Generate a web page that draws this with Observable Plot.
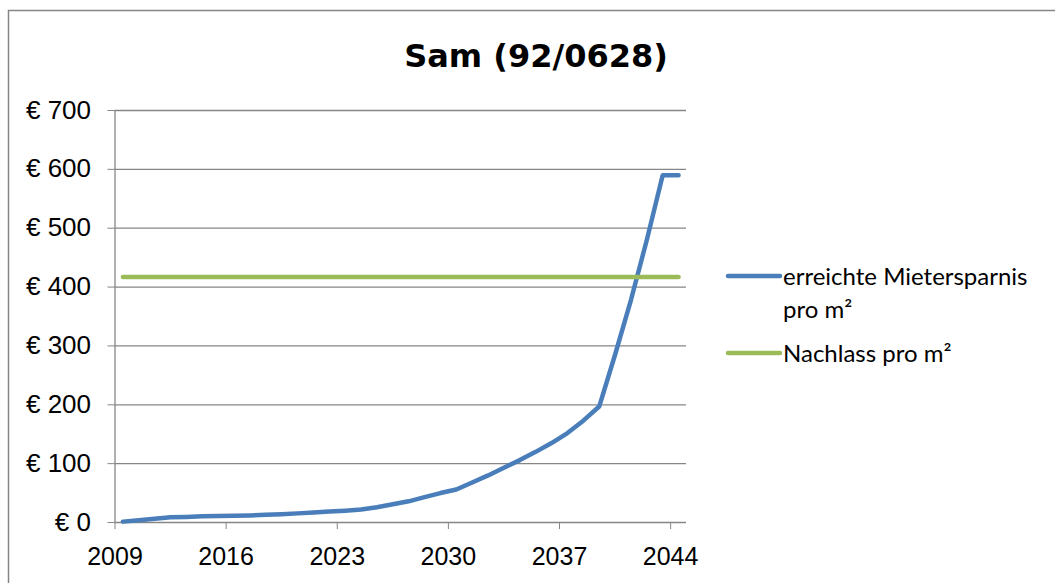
<!DOCTYPE html>
<html><head><meta charset="utf-8">
<script src="https://cdn.jsdelivr.net/npm/d3@7"></script>
<script src="https://cdn.jsdelivr.net/npm/@observablehq/plot@0.6"></script>
<style>
html,body{margin:0;padding:0;background:#fff;}
#wrap{position:relative;width:1055px;height:583px;overflow:hidden;background:#fff;}
#wrap svg{position:absolute;left:0;top:0;}
</style></head><body><div id="wrap"></div>
<script>
const chartTitle = "Sam (92/0628)";
const years = [2009,2010,2011,2012,2013,2014,2015,2016,2017,2018,2019,2020,2021,2022,2023,2024,2025,2026,
               2027,2028,2029,2030,2031,2032,2033,2034,2035,2036,2037,2038,2039,2040,2041,2042,2043,2044];
const savings = [1.5,4,6.5,9,9.5,10.5,11,11.5,12,13,14,15.5,17,18.5,20,22,26,31,
                 36,43,50,56,68,80,93,106,120,135,152,173,197,285,378,480,590,590];
const discount = [417,417,417,417,417,417,417,417,417,417,417,417,417,417,417,417,417,417,
                  417,417,417,417,417,417,417,417,417,417,417,417,417,417,417,417,417,417];
const seriesNames = ["erreichte Mietersparnis pro m²", "Nachlass pro m²"];
const seriesColors = ["#4A7EBB", "#9BBB59"];
const yTicks = [0,100,200,300,400,500,600,700];
const xTickLabels = [2009,2016,2023,2030,2037,2044];

const table = years.map((y,i) => ({year:y, saving:savings[i], discount:discount[i]}));
const grey = "#868686";

const chart = Plot.plot({
  width:1055, height:583,
  marginTop:110, marginBottom:61, marginLeft:114.5, marginRight:369,
  style:{fontFamily:"Liberation Sans, Arial, sans-serif", fontSize:"25px", color:"#000", background:"transparent", overflow:"visible"},
  x:{type:"linear", domain:[years[0]-0.5, years[years.length-1]+0.5]},
  y:{domain:[0,700]},
  marks:[
    Plot.ruleY(yTicks, {stroke:grey, strokeWidth:1.3}),
    Plot.ruleX([years[0]-0.5], {stroke:grey, strokeWidth:1.3}),
    Plot.axisY({ticks:yTicks, tickFormat:d => "€ " + d, tickSize:7, tickPadding:17, stroke:grey, fill:"#000", label:null}),
    Plot.axisX({ticks:xTickLabels.map(d => d - 0.5), tickFormat:d => String(d + 0.5), tickSize:7, tickPadding:18, stroke:grey, fill:"#000", label:null}),
    Plot.line(table, {x:"year", y:"saving", stroke:seriesColors[0], strokeWidth:4.5, strokeLinecap:"round", strokeLinejoin:"round"}),
    Plot.line(table, {x:"year", y:"discount", stroke:seriesColors[1], strokeWidth:4.5, strokeLinecap:"round", strokeLinejoin:"round"})
  ]
});
const wrap = document.getElementById("wrap");
wrap.appendChild(chart);

// widen y tick labels slightly like the (horizontally stretched) original
d3.select(chart).selectAll('g[aria-label="y-axis tick label"] text')
  .attr("transform", function() { return (this.getAttribute("transform") || "") + " scale(1.04,1)"; });

// overlay: border, title, legend
const ov = d3.select(wrap).append("svg").attr("width",1055).attr("height",583).style("pointer-events","none");
ov.append("path").attr("d","M8.5,583V10.5H1055").attr("fill","none").attr("stroke",grey).attr("stroke-width",1.5);
ov.append("text").attr("x",536).attr("y",67).attr("text-anchor","middle")
  .style("font-family","DejaVu Sans").style("font-weight","bold").style("font-size","32px").text(chartTitle);

const leg = ov.append("g").style("font-family","Lato").style("font-size","24px");
leg.append("line").attr("x1",728).attr("x2",780).attr("y1",276).attr("y2",276)
  .attr("stroke",seriesColors[0]).attr("stroke-width",4.5).attr("stroke-linecap","round");
leg.append("text").attr("x",783).attr("y",285).text(seriesNames[0].split(" pro")[0]);
leg.append("text").attr("x",783).attr("y",318).text("pro" + seriesNames[0].split(" pro")[1]);
leg.append("line").attr("x1",728).attr("x2",780).attr("y1",353).attr("y2",353)
  .attr("stroke",seriesColors[1]).attr("stroke-width",4.5).attr("stroke-linecap","round");
leg.append("text").attr("x",783).attr("y",362).text(seriesNames[1]);
</script></body></html>
